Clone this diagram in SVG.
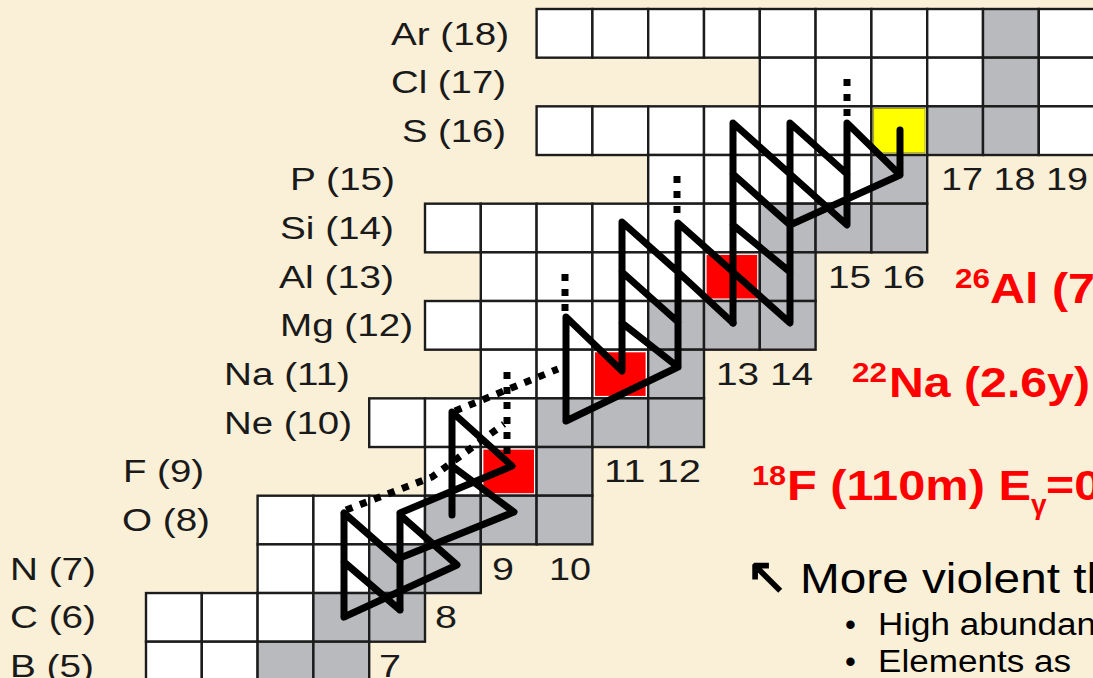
<svg xmlns="http://www.w3.org/2000/svg" width="1093" height="678" viewBox="0 0 1093 678">
<style>
.c{stroke:#1c1c1c;stroke-width:2.4}
.w{fill:#ffffff}
.g{fill:#b9babd}
.r{fill:#ff0000}
.y{fill:#ffff00;stroke:#a0a000;stroke-width:1}
.lab{font-family:"Liberation Sans",Arial,sans-serif;font-size:31px;fill:#1a1a1a}
.red{font-family:"Liberation Sans",Arial,sans-serif;font-weight:bold;fill:#ff0000}
.blk{font-family:"Liberation Sans",Arial,sans-serif;fill:#000}
.path{fill:none;stroke:#000;stroke-width:7;stroke-linecap:round;stroke-linejoin:round}
.dot{fill:none;stroke:#000;stroke-width:7;stroke-dasharray:7 8}
</style>
<rect x="0" y="0" width="1093" height="678" fill="#faf0d8"/>

<g id="row-Ar">
<rect class="c w" x="536.6" y="9" width="55.8" height="48.67"/>
<rect class="c w" x="592.4" y="9" width="55.8" height="48.67"/>
<rect class="c w" x="648.2" y="9" width="55.8" height="48.67"/>
<rect class="c w" x="704" y="9" width="55.8" height="48.67"/>
<rect class="c w" x="759.8" y="9" width="55.8" height="48.67"/>
<rect class="c w" x="815.6" y="9" width="55.8" height="48.67"/>
<rect class="c w" x="871.4" y="9" width="55.8" height="48.67"/>
<rect class="c w" x="927.2" y="9" width="55.8" height="48.67"/>
<rect class="c g" x="983" y="9" width="55.8" height="48.67"/>
<rect class="c w" x="1038.8" y="9" width="55.8" height="48.67"/>
</g>
<g id="row-Cl">
<rect class="c w" x="759.8" y="57.67" width="55.8" height="48.67"/>
<rect class="c w" x="815.6" y="57.67" width="55.8" height="48.67"/>
<rect class="c w" x="871.4" y="57.67" width="55.8" height="48.67"/>
<rect class="c w" x="927.2" y="57.67" width="55.8" height="48.67"/>
<rect class="c g" x="983" y="57.67" width="55.8" height="48.67"/>
<rect class="c w" x="1038.8" y="57.67" width="55.8" height="48.67"/>
</g>
<g id="row-S">
<rect class="c w" x="536.6" y="106.34" width="55.8" height="48.67"/>
<rect class="c w" x="592.4" y="106.34" width="55.8" height="48.67"/>
<rect class="c w" x="648.2" y="106.34" width="55.8" height="48.67"/>
<rect class="c w" x="704" y="106.34" width="55.8" height="48.67"/>
<rect class="c w" x="759.8" y="106.34" width="55.8" height="48.67"/>
<rect class="c w" x="815.6" y="106.34" width="55.8" height="48.67"/>
<rect class="c w" x="871.4" y="106.34" width="55.8" height="48.67"/>
<rect class="y" x="873.6" y="108.5" width="51.4" height="44.3"/>
<rect class="c g" x="927.2" y="106.34" width="55.8" height="48.67"/>
<rect class="c g" x="983" y="106.34" width="55.8" height="48.67"/>
<rect class="c w" x="1038.8" y="106.34" width="55.8" height="48.67"/>
</g>
<g id="row-P">
<rect class="c w" x="648.2" y="155.01" width="55.8" height="48.67"/>
<rect class="c w" x="704" y="155.01" width="55.8" height="48.67"/>
<rect class="c w" x="759.8" y="155.01" width="55.8" height="48.67"/>
<rect class="c w" x="815.6" y="155.01" width="55.8" height="48.67"/>
<rect class="c g" x="871.4" y="155.01" width="55.8" height="48.67"/>
</g>
<g id="row-Si">
<rect class="c w" x="425" y="203.68" width="55.8" height="48.67"/>
<rect class="c w" x="480.8" y="203.68" width="55.8" height="48.67"/>
<rect class="c w" x="536.6" y="203.68" width="55.8" height="48.67"/>
<rect class="c w" x="592.4" y="203.68" width="55.8" height="48.67"/>
<rect class="c w" x="648.2" y="203.68" width="55.8" height="48.67"/>
<rect class="c w" x="704" y="203.68" width="55.8" height="48.67"/>
<rect class="c g" x="759.8" y="203.68" width="55.8" height="48.67"/>
<rect class="c g" x="815.6" y="203.68" width="55.8" height="48.67"/>
<rect class="c g" x="871.4" y="203.68" width="55.8" height="48.67"/>
</g>
<g id="row-Al">
<rect class="c w" x="480.8" y="252.35" width="55.8" height="48.67"/>
<rect class="c w" x="536.6" y="252.35" width="55.8" height="48.67"/>
<rect class="c w" x="592.4" y="252.35" width="55.8" height="48.67"/>
<rect class="c w" x="648.2" y="252.35" width="55.8" height="48.67"/>
<rect class="c w" x="704" y="252.35" width="55.8" height="48.67"/>
<rect class="r" x="706.6" y="254.9" width="50.6" height="43.6"/>
<rect class="c g" x="759.8" y="252.35" width="55.8" height="48.67"/>
</g>
<g id="row-Mg">
<rect class="c w" x="425" y="301.02" width="55.8" height="48.67"/>
<rect class="c w" x="480.8" y="301.02" width="55.8" height="48.67"/>
<rect class="c w" x="536.6" y="301.02" width="55.8" height="48.67"/>
<rect class="c w" x="592.4" y="301.02" width="55.8" height="48.67"/>
<rect class="c g" x="648.2" y="301.02" width="55.8" height="48.67"/>
<rect class="c g" x="704" y="301.02" width="55.8" height="48.67"/>
<rect class="c g" x="759.8" y="301.02" width="55.8" height="48.67"/>
</g>
<g id="row-Na">
<rect class="c w" x="480.8" y="349.69" width="55.8" height="48.67"/>
<rect class="c w" x="536.6" y="349.69" width="55.8" height="48.67"/>
<rect class="c w" x="592.4" y="349.69" width="55.8" height="48.67"/>
<rect class="r" x="595" y="352.3" width="50.6" height="43.6"/>
<rect class="c g" x="648.2" y="349.69" width="55.8" height="48.67"/>
</g>
<g id="row-Ne">
<rect class="c w" x="369.2" y="398.36" width="55.8" height="48.67"/>
<rect class="c w" x="425" y="398.36" width="55.8" height="48.67"/>
<rect class="c w" x="480.8" y="398.36" width="55.8" height="48.67"/>
<rect class="c g" x="536.6" y="398.36" width="55.8" height="48.67"/>
<rect class="c g" x="592.4" y="398.36" width="55.8" height="48.67"/>
<rect class="c g" x="648.2" y="398.36" width="55.8" height="48.67"/>
</g>
<g id="row-F">
<rect class="c w" x="425" y="447.03" width="55.8" height="48.67"/>
<rect class="c w" x="480.8" y="447.03" width="55.8" height="48.67"/>
<rect class="r" x="483.4" y="449.6" width="50.6" height="43.6"/>
<rect class="c g" x="536.6" y="447.03" width="55.8" height="48.67"/>
</g>
<g id="row-O">
<rect class="c w" x="257.6" y="495.7" width="55.8" height="48.67"/>
<rect class="c w" x="313.4" y="495.7" width="55.8" height="48.67"/>
<rect class="c w" x="369.2" y="495.7" width="55.8" height="48.67"/>
<rect class="c g" x="425" y="495.7" width="55.8" height="48.67"/>
<rect class="c g" x="480.8" y="495.7" width="55.8" height="48.67"/>
<rect class="c g" x="536.6" y="495.7" width="55.8" height="48.67"/>
</g>
<g id="row-N">
<rect class="c w" x="257.6" y="544.37" width="55.8" height="48.67"/>
<rect class="c w" x="313.4" y="544.37" width="55.8" height="48.67"/>
<rect class="c g" x="369.2" y="544.37" width="55.8" height="48.67"/>
<rect class="c g" x="425" y="544.37" width="55.8" height="48.67"/>
</g>
<g id="row-C">
<rect class="c w" x="146" y="593.04" width="55.8" height="48.67"/>
<rect class="c w" x="201.8" y="593.04" width="55.8" height="48.67"/>
<rect class="c w" x="257.6" y="593.04" width="55.8" height="48.67"/>
<rect class="c g" x="313.4" y="593.04" width="55.8" height="48.67"/>
<rect class="c g" x="369.2" y="593.04" width="55.8" height="48.67"/>
</g>
<g id="row-B">
<rect class="c w" x="146" y="641.71" width="55.8" height="48.67"/>
<rect class="c w" x="201.8" y="641.71" width="55.8" height="48.67"/>
<rect class="c g" x="257.6" y="641.71" width="55.8" height="48.67"/>
<rect class="c g" x="313.4" y="641.71" width="55.8" height="48.67"/>
</g>

<g id="connectors">
<path class="path" d="M344,513 L344,617 M344,513 L400,562 M344,562 L400,610 M400,610 L400,515 L457,565 L344,617"/>
<path class="path" d="M452,515 L452,412 L512,466 L400,513 M452,466 L514,512 L400,558"/>
<path class="path" d="M566,421 L566,317 L622,371 L622,222 L678,272 M622,272 L678,322 M622,323 L678,367 L566,421 M678,367 L678,223 L733,272 M678,272 L733,323"/>
<path class="path" d="M733,323 L733,123 L790,174 M733,174 L790,225 M733,225 L790,272 M733,272 L790,323 L790,123 L847,174 M790,174 L847,225 L847,123 L900,175 L900,130 M900,175 L790,225"/>
<path class="dot" d="M346,510 L432,477 L504,424"/>
<path class="dot" d="M455,411 L558,369"/>
<path class="dot" d="M507,372 L507,457"/>
<path class="dot" d="M565,274 L565,314"/>
<path class="dot" d="M677,176 L677,215"/>
<path class="dot" d="M847,79 L847,120"/>
</g>

<g id="element-labels">
<text class="lab" x="391" y="44.5" textLength="118" lengthAdjust="spacingAndGlyphs">Ar (18)</text>
<text class="lab" x="391" y="93" textLength="115" lengthAdjust="spacingAndGlyphs">Cl (17)</text>
<text class="lab" x="402" y="141.5" textLength="104" lengthAdjust="spacingAndGlyphs">S (16)</text>
<text class="lab" x="290" y="190" textLength="105" lengthAdjust="spacingAndGlyphs">P (15)</text>
<text class="lab" x="280" y="239" textLength="114" lengthAdjust="spacingAndGlyphs">Si (14)</text>
<text class="lab" x="279" y="287.5" textLength="115" lengthAdjust="spacingAndGlyphs">Al (13)</text>
<text class="lab" x="280" y="336" textLength="133" lengthAdjust="spacingAndGlyphs">Mg (12)</text>
<text class="lab" x="224" y="385" textLength="126" lengthAdjust="spacingAndGlyphs">Na (11)</text>
<text class="lab" x="224" y="433.5" textLength="128" lengthAdjust="spacingAndGlyphs">Ne (10)</text>
<text class="lab" x="123" y="482" textLength="81" lengthAdjust="spacingAndGlyphs">F (9)</text>
<text class="lab" x="122" y="531" textLength="88" lengthAdjust="spacingAndGlyphs">O (8)</text>
<text class="lab" x="10" y="579.5" textLength="86" lengthAdjust="spacingAndGlyphs">N (7)</text>
<text class="lab" x="10" y="628" textLength="86" lengthAdjust="spacingAndGlyphs">C (6)</text>
<text class="lab" x="10" y="677" textLength="84" lengthAdjust="spacingAndGlyphs">B (5)</text>
</g>

<g id="neutron-labels">
<text class="lab" x="379" y="677" textLength="22" lengthAdjust="spacingAndGlyphs">7</text>
<text class="lab" x="435" y="628" textLength="22" lengthAdjust="spacingAndGlyphs">8</text>
<text class="lab" x="492" y="579.5" textLength="22" lengthAdjust="spacingAndGlyphs">9</text>
<text class="lab" x="549" y="579.5" textLength="42" lengthAdjust="spacingAndGlyphs">10</text>
<text class="lab" x="604" y="482" textLength="97" lengthAdjust="spacingAndGlyphs">11 12</text>
<text class="lab" x="716" y="385" textLength="97" lengthAdjust="spacingAndGlyphs">13 14</text>
<text class="lab" x="828" y="287.5" textLength="97" lengthAdjust="spacingAndGlyphs">15 16</text>
<text class="lab" x="941" y="190" textLength="147" lengthAdjust="spacingAndGlyphs">17 18 19</text>
</g>

<g id="label-Al26">
<text class="red" x="955" y="288" font-size="27" textLength="35" lengthAdjust="spacingAndGlyphs">26</text>
<text class="red" x="990" y="303" font-size="42" textLength="105" lengthAdjust="spacingAndGlyphs">Al (7</text>
</g>
<g id="label-Na22">
<text class="red" x="852" y="382" font-size="27" textLength="35" lengthAdjust="spacingAndGlyphs">22</text>
<text class="red" x="889" y="397" font-size="42" textLength="201" lengthAdjust="spacingAndGlyphs">Na (2.6y)</text>
</g>
<g id="label-F18">
<text class="red" x="752" y="485" font-size="27" textLength="34" lengthAdjust="spacingAndGlyphs">18</text>
<text class="red" x="787" y="500" font-size="42" textLength="244" lengthAdjust="spacingAndGlyphs">F (110m) E</text>
<text class="red" x="1031" y="514" font-size="28" font-weight="normal">γ</text>
<text class="red" x="1046" y="500" font-size="42" textLength="55" lengthAdjust="spacingAndGlyphs">=0</text>
</g>

<g id="notes">
<text class="blk" x="746" y="593" font-size="50" font-weight="bold" font-family="DejaVu Sans">↖</text>
<text class="blk" x="800" y="593" font-size="43" textLength="313" lengthAdjust="spacingAndGlyphs">More violent th</text>
<text class="blk" x="845" y="635" font-size="31">•</text>
<text class="blk" x="878" y="635" font-size="31" textLength="218" lengthAdjust="spacingAndGlyphs">High abundan</text>
<text class="blk" x="845" y="672" font-size="31">•</text>
<text class="blk" x="878" y="672" font-size="31" textLength="193" lengthAdjust="spacingAndGlyphs">Elements as</text>
</g>
</svg>
